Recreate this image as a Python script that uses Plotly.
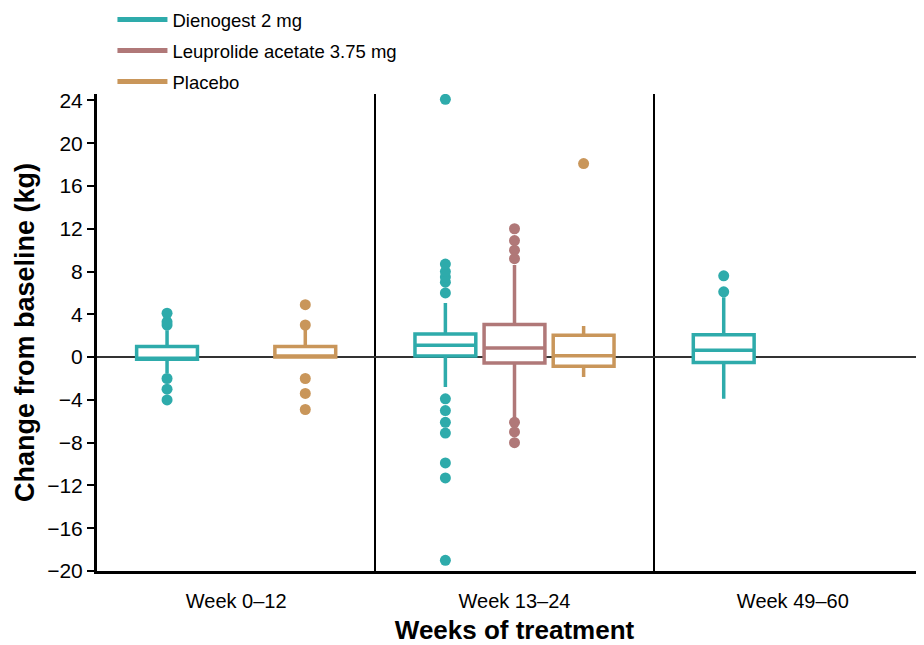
import plotly.graph_objects as go

categories = ["Week 0–12", "Week 13–24", "Week 49–60"]
y_ticks = [-20, -16, -12, -8, -4, 0, 4, 8, 12, 16, 20, 24]

# Dienogest 2 mg
dng_x = ["Week 0–12", "Week 13–24", "Week 49–60"]
dng_q1 = [-0.2, 0.1, -0.5]
dng_median = [-0.2, 1.1, 0.65]
dng_q3 = [1.0, 2.15, 2.1]
dng_lower = [-1.5, -2.8, -3.9]
dng_upper = [2.5, 5.05, 5.6]
dng_outliers = [
    [4.1, 3.3, 3.0, -2.0, -3.0, -4.0],
    [24.1, 8.7, 8.0, 7.5, 7.0, 6.0, -3.9, -5.0, -6.1, -7.1, -9.9, -11.3, -19.0],
    [7.6, 6.1],
]

# Leuprolide acetate 3.75 mg
leu_x = ["Week 13–24"]
leu_q1 = [-0.55]
leu_median = [0.85]
leu_q3 = [3.05]
leu_lower = [-5.7]
leu_upper = [8.6]
leu_outliers = [[12.0, 10.9, 10.0, 9.2, -6.1, -7.0, -8.0]]

# Placebo
pla_x = ["Week 0–12", "Week 13–24"]
pla_q1 = [0.0, -0.85]
pla_median = [0.0, 0.13]
pla_q3 = [1.0, 2.05]
pla_lower = [0.0, -1.85]
pla_upper = [3.0, 2.9]
pla_outliers = [[4.9, 3.0, -2.0, -3.4, -4.9], [18.1]]

names = ["Dienogest 2 mg", "Leuprolide acetate 3.75 mg", "Placebo"]
colors = ["#2EABAB", "#B07878", "#C9965A"]

series = [
    (dng_x, dng_q1, dng_median, dng_q3, dng_lower, dng_upper, dng_outliers),
    (leu_x, leu_q1, leu_median, leu_q3, leu_lower, leu_upper, leu_outliers),
    (pla_x, pla_q1, pla_median, pla_q3, pla_lower, pla_upper, pla_outliers),
]

FONT = "Liberation Sans, Arial, sans-serif"

fig = go.Figure()
for name, color, (x, q1, med, q3, lo, hi, pts) in zip(names, colors, series):
    fig.add_trace(go.Box(
        x=x, y=pts, q1=q1, median=med, q3=q3, lowerfence=lo, upperfence=hi,
        name=name, showlegend=False,
        boxpoints="all", jitter=0, pointpos=0,
        fillcolor="white", whiskerwidth=0,
        line=dict(color=color, width=3.5),
        marker=dict(color=color, size=11),
    ))

for i, (name, color) in enumerate(zip(names, colors)):
    fig.add_trace(go.Scatter(
        x=[None], y=[None], mode="lines", name=name,
        legendgroup=f"g{i}",
        line=dict(color=color, width=5),
    ))

fig.update_layout(
    width=924, height=637,
    margin=dict(l=89, r=0, t=86, b=74, autoexpand=False),
    paper_bgcolor="white", plot_bgcolor="white",
    font=dict(family=FONT, color="black", size=20),
    boxmode="group", boxgap=0.255, boxgroupgap=0.12,
    legend=dict(
        x=0.0185, y=1.195, xanchor="left", yanchor="top",
        font=dict(size=18.5, family=FONT, color="black"),
        traceorder="grouped", tracegroupgap=4, itemwidth=50,
        bgcolor="rgba(0,0,0,0)",
    ),
    xaxis=dict(
        categoryorder="array", categoryarray=categories,
        range=[-0.5, 2.5],
        showline=True, linecolor="black", linewidth=3,
        tickson="boundaries", ticks="",
        showgrid=True, gridcolor="black", gridwidth=1.5,
        zeroline=False,
        tickfont=dict(size=20, family=FONT, color="black"),
        ticklabelstandoff=10,
        title=dict(text="<b>Weeks of treatment</b>", font=dict(size=26, family=FONT, color="black"), standoff=12),
    ),
    yaxis=dict(
        range=[-20, 24.6],
        tickvals=y_ticks,
        showline=True, linecolor="black", linewidth=3,
        ticks="outside", ticklen=7, tickwidth=2, tickcolor="black",
        showgrid=False,
        zeroline=True, zerolinecolor="#333333", zerolinewidth=2,
        tickfont=dict(size=21, family=FONT, color="black"),
        title=dict(text="<b>Change from baseline (kg)</b>", font=dict(size=27, family=FONT, color="black"), standoff=5),
    ),
)

fig.write_html("out.html")
